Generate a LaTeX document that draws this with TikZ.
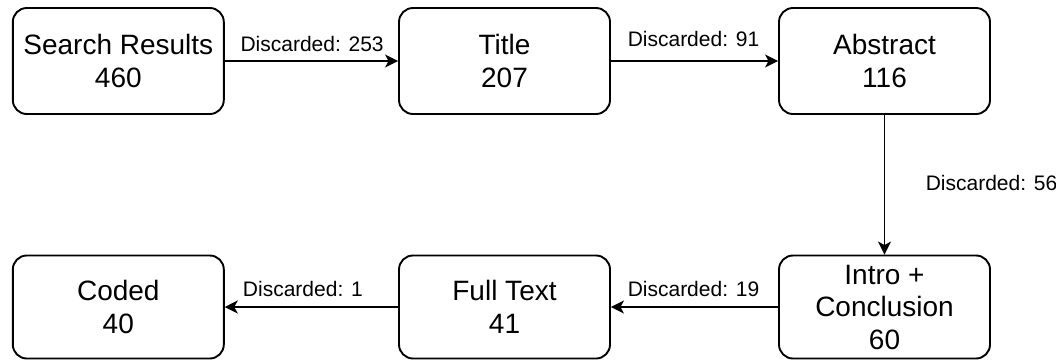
\documentclass[tikz,border=0pt]{standalone}
\usepackage{fontspec}
\setmainfont{Liberation Sans}
\usetikzlibrary{arrows.meta}

\tikzset{
  stage/.style={draw=black, line width=1.9pt, rounded corners=14pt,
    minimum width=211pt, inner sep=0pt, align=center, text=black,
    font=\fontsize{28}{32.5}\selectfont},
  flow/.style={draw=black, line width=1.6pt,
    -{Stealth[length=13pt, width=13pt, inset=3.5pt]}},
  lbl/.style={font=\fontsize{21}{24}\selectfont, text=black, inner sep=0pt}
}

\begin{document}
\begin{tikzpicture}[x=1pt, y=-1pt]
  \useasboundingbox (0,0) rectangle (1056,360);

  % top row
  \node[stage, minimum height=106pt] (search)   at (118.3,61)   {Search Results\\460};
  \node[stage, minimum height=106pt] (title)    at (504.5,61)   {Title\\207};
  \node[stage, minimum height=106pt] (abstract) at (884.5,61)   {Abstract\\116};

  % bottom row
  \node[stage, minimum height=103pt] (intro)    at (884.5,307)  {Intro +\\Conclusion\\60};
  \node[stage, minimum height=103pt] (full)     at (504.5,307)  {Full Text\\41};
  \node[stage, minimum height=103pt] (coded)    at (118.3,307)  {Coded\\40};

  % screening steps
  \draw[flow] (search) -- (title)
    node[lbl, midway, anchor=base, xshift=0.7pt, yshift=9.5pt] {Discarded: 253};
  \draw[flow] (title) -- (abstract)
    node[lbl, midway, anchor=base, xshift=-1pt, yshift=14.3pt] {Discarded: 91};
  \draw[flow] (abstract) -- (intro)
    node[lbl, midway, anchor=base west, xshift=40.5pt, yshift=-6.2pt] {Discarded: 56};
  \draw[flow] (intro) -- (full)
    node[lbl, midway, anchor=base, xshift=-1pt, yshift=10.3pt] {Discarded: 19};
  \draw[flow] (full) -- (coded)
    node[lbl, midway, anchor=base, xshift=-8.5pt, yshift=11pt] {Discarded: 1};
\end{tikzpicture}
\end{document}
